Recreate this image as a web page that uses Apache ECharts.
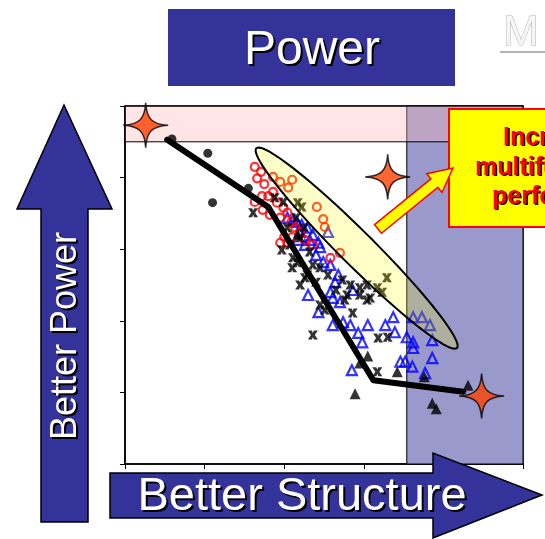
<!DOCTYPE html>
<html>
<head>
<meta charset="utf-8">
<title>Power vs Structure</title>
<script src="https://cdn.jsdelivr.net/npm/echarts@6/dist/echarts.min.js"></script>
<style>
  html, body { margin: 0; padding: 0; background: #fff; }
  #main { width: 545px; height: 539px; }
</style>
</head>
<body>
<div id="main"></div>
<script type="text/javascript">
// data, in axis units (both axes run 0..5)
var blackDots = [[0.59, 4.54], [1.04, 4.34], [1.10, 3.65], [1.55, 3.85]];

var redCircles = [
  [1.63, 4.15], [1.71, 4.08], [1.66, 3.99], [1.75, 3.91], [1.72, 3.74], [1.80, 3.74],
  [1.86, 3.80], [1.63, 3.66], [1.73, 3.55], [1.91, 3.65], [1.99, 3.58], [1.82, 3.48],
  [1.95, 3.44], [2.04, 3.51], [2.09, 3.38], [2.14, 3.30], [1.95, 3.09], [2.04, 3.09],
  [2.00, 3.17], [2.10, 3.17], [2.20, 3.24], [2.58, 2.88], [2.36, 3.06], [2.26, 3.13],
  [1.86, 4.01], [1.95, 3.94], [2.10, 3.97], [2.05, 3.86], [2.41, 3.59], [2.49, 3.42],
  [2.51, 3.31], [2.70, 2.95]
];

var blackCrosses = [
  [1.61, 3.51], [1.88, 3.72], [1.99, 3.66], [2.04, 3.30], [2.07, 3.06], [1.97, 2.99],
  [2.11, 2.88], [2.17, 2.81], [2.20, 3.16], [2.26, 2.60], [2.29, 2.64], [2.32, 2.96],
  [2.36, 2.78], [2.45, 2.74], [2.55, 2.64], [2.73, 2.57], [2.83, 2.50], [2.79, 2.36],
  [2.95, 2.46], [2.95, 2.36], [3.08, 2.32], [3.04, 2.29], [2.86, 2.11], [2.45, 2.22],
  [2.51, 2.15], [2.36, 1.80], [3.18, 1.76], [3.30, 1.77], [3.17, 1.29], [2.17, 3.65],
  [2.22, 3.59], [3.29, 2.60], [3.17, 2.46], [3.23, 2.40], [3.04, 2.50], [2.15, 3.44],
  [2.25, 3.30], [2.10, 2.74], [2.20, 2.50], [2.40, 2.54], [2.65, 2.43], [2.76, 2.29]
];

var blueTriangles = [
  [2.04, 3.44], [2.11, 3.41], [2.16, 3.38], [2.22, 3.34], [2.29, 3.30], [2.36, 3.20],
  [2.32, 3.13], [2.43, 3.09], [2.45, 3.03], [2.49, 2.82], [2.40, 2.92], [2.58, 2.78],
  [2.68, 2.64], [2.64, 2.54], [2.86, 2.43], [2.30, 2.36], [2.58, 2.40], [2.61, 2.32],
  [2.70, 2.26], [2.43, 2.12], [2.61, 1.94], [2.74, 1.98], [2.83, 1.94], [2.93, 1.83],
  [2.98, 1.70], [3.05, 1.94], [3.27, 1.94], [3.37, 2.05], [3.39, 1.84], [3.54, 1.77],
  [3.62, 1.70], [3.62, 1.62], [3.86, 1.73], [3.86, 1.48], [3.46, 1.43], [3.52, 1.43],
  [3.61, 1.36], [3.77, 1.27], [2.85, 1.31], [2.55, 3.24], [3.73, 2.05], [3.62, 2.05],
  [3.83, 1.94], [2.20, 3.24], [2.26, 3.06], [2.17, 3.13]
];

var blackTriangles = [
  [3.05, 1.51], [2.95, 1.41], [3.42, 1.29], [3.76, 1.22], [4.31, 1.10], [2.89, 0.98],
  [3.86, 0.85], [3.91, 0.77], [2.17, 3.21]
];

var frontier = [[0.53, 4.53], [1.80, 3.59], [3.12, 1.17], [4.25, 1.01]];
var stars = [[0.26, 4.73], [3.30, 4.01], [4.48, 0.95]];

// target ellipse: ends of its long axis
var ellipseAxis = [[1.65, 4.41, 4.17, 1.62]];

// shaded bands: [xFrom, xTo, yFrom, yTo]
var blueBand = [3.54, 5, 0, 5];
var pinkBand = [0, 5, 4.50, 5];

var FONT = '"Liberation Sans", Arial, sans-serif';
var STAR = 'path://M50,0 C52,36 64,48 100,50 C64,52 52,64 50,100 C48,64 36,52 0,50 C36,48 48,36 50,0 Z';
var CROSS = 'path://M0,0L4,0L5,2.6L6,0L10,0L7,5L10,10L6,10L5,7.4L4,10L0,10L3,5Z';

function renderEllipse(params, api) {
  var p1 = api.coord([api.value(0), api.value(1)]);
  var p2 = api.coord([api.value(2), api.value(3)]);
  var cx = (p1[0] + p2[0]) / 2, cy = (p1[1] + p2[1]) / 2;
  var dx = p2[0] - p1[0], dy = p2[1] - p1[1];
  var a = Math.sqrt(dx * dx + dy * dy) / 2, b = 17;
  var ang = Math.atan2(dy, dx);
  var pts = [];
  for (var i = 0; i < 90; i++) {
    var t = i / 90 * 2 * Math.PI;
    var ex = a * Math.cos(t), ey = b * Math.sin(t);
    pts.push([cx + ex * Math.cos(ang) - ey * Math.sin(ang),
              cy + ex * Math.sin(ang) + ey * Math.cos(ang)]);
  }
  return {
    type: 'polygon',
    shape: { points: pts },
    style: { fill: 'rgba(255,255,0,0.22)', stroke: '#000', lineWidth: 2 }
  };
}

function band(b, fill) {
  return [
    { xAxis: b[0], yAxis: b[2], itemStyle: { color: fill, borderColor: '#000', borderWidth: 1 } },
    { xAxis: b[1], yAxis: b[3] }
  ];
}

// arrow polygon from tail centre to tip
function arrowPoints(tail, tip, shaftHalf, headHalf, headLen) {
  var dx = tip[0] - tail[0], dy = tip[1] - tail[1];
  var len = Math.sqrt(dx * dx + dy * dy);
  var ux = dx / len, uy = dy / len, nx = -uy, ny = ux;
  var bx = tip[0] - ux * headLen, by = tip[1] - uy * headLen;
  return [
    [tail[0] + nx * shaftHalf, tail[1] + ny * shaftHalf],
    [bx + nx * shaftHalf, by + ny * shaftHalf],
    [bx + nx * headHalf, by + ny * headHalf],
    tip,
    [bx - nx * headHalf, by - ny * headHalf],
    [bx - nx * shaftHalf, by - ny * shaftHalf],
    [tail[0] - nx * shaftHalf, tail[1] - ny * shaftHalf]
  ];
}

function shadowText(x, y, text, size, color, opts) {
  opts = opts || {};
  var base = {
    font: (opts.bold ? 'bold ' : '') + size + 'px ' + FONT,
    align: opts.align || 'center',
    verticalAlign: 'middle'
  };
  var off = opts.off || 2;
  return [
    { type: 'text', x: x + off, y: y + off, rotation: opts.rot || 0, z: 101,
      style: Object.assign({ text: text, fill: '#000' }, base) },
    { type: 'text', x: x, y: y, rotation: opts.rot || 0, z: 102,
      style: Object.assign({ text: text, fill: color }, base) }
  ];
}

var myChart = echarts.init(document.getElementById('main'));

var graphics = [
  // title box
  { type: 'rect', shape: { x: 168, y: 9, width: 287, height: 77 }, z: 100,
    style: { fill: '#333399' } },
  // faded heading on the right
  { type: 'text', x: 503, y: 12, z: 100,
    style: { text: 'M', font: '43px ' + FONT, fill: '#f6f6f6', stroke: '#b4b4b4', lineWidth: 1 } },
  { type: 'line', shape: { x1: 500, y1: 52, x2: 545, y2: 52 }, z: 100,
    style: { stroke: '#b4b4b4', lineWidth: 2 } },
  // up arrow
  { type: 'polygon', z: 100,
    shape: { points: [[64, 105], [112, 209], [88, 209], [88, 522], [41, 522], [41, 209], [17, 209]] },
    style: { fill: '#333399', stroke: '#000', lineWidth: 1.5 } },
  // right arrow
  { type: 'polygon', z: 100,
    shape: { points: [[110, 473], [433, 473], [433, 453], [542, 495], [433, 538], [433, 518], [110, 518]] },
    style: { fill: '#333399', stroke: '#000', lineWidth: 1.5 } },
  // callout
  { type: 'rect', shape: { x: 449, y: 109, width: 120, height: 118 }, z: 100,
    style: { fill: '#ffff00', stroke: '#ff0000', lineWidth: 2 } },
  { type: 'polygon', z: 100,
    shape: { points: arrowPoints([378, 229], [453, 168], 5.5, 12, 24) },
    style: { fill: '#ffff00', stroke: '#ff0000', lineWidth: 1.5 } }
];

graphics = graphics
  .concat(shadowText(312, 51, 'Power', 48, '#fff'))
  .concat(shadowText(66, 336, 'Better Power', 36, '#fff', { rot: Math.PI / 2 }))
  .concat(shadowText(302, 497, 'Better Structure', 47, '#fff'))
  .concat(shadowText(503, 138, 'Increased', 25, '#ff0000', { bold: true, align: 'left', off: 1.5 }))
  .concat(shadowText(475, 168, 'multifunctional', 25, '#ff0000', { bold: true, align: 'left', off: 1.5 }))
  .concat(shadowText(492, 197, 'performance', 25, '#ff0000', { bold: true, align: 'left', off: 1.5 }));

var axisCommon = {
  type: 'value',
  min: 0,
  max: 5,
  interval: 1,
  axisLine: { show: true, lineStyle: { color: '#000', width: 1.5 } },
  axisTick: { show: true, inside: false, length: 5, lineStyle: { color: '#000', width: 1 } },
  axisLabel: { show: false },
  splitLine: { show: false }
};

var option = {
  animation: false,
  backgroundColor: '#fff',
  grid: {
    left: 125, right: 22, top: 106, bottom: 75,
    show: true, borderColor: '#000', borderWidth: 1.5, backgroundColor: 'transparent'
  },
  xAxis: axisCommon,
  yAxis: axisCommon,
  graphic: graphics,
  series: [
    {
      type: 'scatter', data: [], z: 1, silent: true,
      markArea: {
        silent: true,
        data: [band(blueBand, '#9999cc'), band(pinkBand, 'rgba(255,183,183,0.36)')]
      }
    },
    {
      type: 'scatter', data: blueTriangles, z: 3, symbol: 'triangle', symbolSize: 10,
      itemStyle: { color: 'rgba(0,0,0,0)', borderColor: '#0000ff', borderWidth: 2.2 }
    },
    {
      type: 'scatter', data: redCircles, z: 3, symbol: 'circle', symbolSize: 8,
      itemStyle: { color: 'rgba(0,0,0,0)', borderColor: '#ff0000', borderWidth: 2.2 }
    },
    {
      type: 'scatter', data: blackCrosses, z: 4, symbol: CROSS, symbolSize: [10, 9],
      itemStyle: { color: '#000' }
    },
    {
      type: 'scatter', data: blackTriangles, z: 4, symbol: 'triangle', symbolSize: 11,
      itemStyle: { color: '#000' }
    },
    {
      type: 'scatter', data: blackDots, z: 4, symbol: 'circle', symbolSize: 9,
      itemStyle: { color: '#000' }
    },
    {
      type: 'line', data: frontier, z: 5, symbol: 'none',
      lineStyle: { color: '#000', width: 6, join: 'round', cap: 'round' }
    },
    {
      type: 'custom', data: ellipseAxis, z: 6, renderItem: renderEllipse, clip: false, silent: true
    },
    {
      type: 'scatter', data: stars, z: 7, symbol: STAR, symbolSize: 45,
      itemStyle: { color: '#ff4000', borderColor: '#000', borderWidth: 1.5 }
    }
  ]
};

myChart.setOption(option);
</script>
</body>
</html>
